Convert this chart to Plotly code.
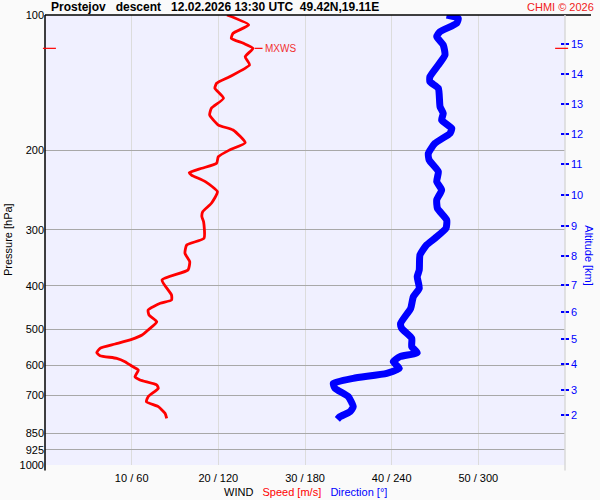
import numpy as np
import plotly.graph_objects as go

# ---------------- data ----------------
speed_p = [100.0, 105.2, 109.8, 112.7, 115.6, 118.6, 123.8, 129.1, 137.1, 141.8,
           145.5, 153.1, 161.2, 166.8, 175.6, 180.1, 192.2, 199.5, 206.5, 213.6,
           219.1, 224.1, 226.8, 234.6, 247.0, 262.0, 273.5, 280.6, 287.9, 313.4,
           324.4, 338.5, 353.3, 368.7, 388.0, 419.0, 429.9, 437.2, 452.4, 464.2,
           480.3, 501.2, 514.2, 525.7, 538.4, 550.4, 562.9, 571.6, 579.3, 589.4,
           602.6, 615.1, 636.5, 647.3, 664.1, 675.5, 705.1, 723.4, 742.0, 767.6,
           787.5]
speed_ms = [21.0, 23.5, 21.7, 21.5, 22.9, 24.0, 23.1, 23.6, 21.3, 19.8,
            19.6, 20.6, 19.2, 19.0, 20.0, 21.7, 23.1, 21.3, 20.0, 19.8,
            18.1, 16.65, 16.9, 18.5, 19.9, 19.2, 18.2, 18.1, 18.3, 18.35,
            16.35, 16.15, 16.7, 16.5, 13.5, 14.6, 14.6, 13.3, 11.9, 12.0,
            12.9, 11.9, 11.2, 10.0, 8.1, 6.35, 5.97, 6.35, 8.27, 9.23,
            10.0, 10.77, 10.38, 10.96, 12.9, 13.07, 11.9, 11.7, 13.07, 13.85,
            14.04]

dir_p = [100.0, 101.7, 104.3, 108.9, 111.7, 116.6, 122.7, 129.1, 137.1, 140.7,
         145.5, 159.9, 165.4, 171.2, 178.6, 183.2, 192.8, 203.0, 210.1, 222.9,
         234.6, 244.9, 257.6, 269.0, 285.4, 297.8, 313.4, 324.4, 341.4, 368.7,
         381.6, 404.8, 422.7, 448.5, 484.3, 496.8, 522.9, 546.0, 562.9, 574.5,
         589.4, 609.8, 625.6, 641.8, 658.4, 675.5, 705.1, 742.0, 761.2, 781.1,
         791.4]
dir_deg = [278.1, 286.1, 285.0, 273.5, 271.2, 275.7, 276.9, 272.3, 266.5, 266.5,
           272.3, 273.5, 275.7, 274.6, 281.6, 280.4, 270.0, 265.4, 266.0, 272.3,
           271.2, 274.6, 271.2, 271.7, 278.1, 277.6, 270.0, 264.2, 259.6, 259.1,
           257.7, 259.1, 255.0, 253.2, 246.2, 246.9, 253.9, 253.9, 257.7, 245.8,
           241.1, 245.3, 236.6, 213.4, 199.6, 200.8, 210.0, 213.4, 211.2, 204.2,
           202.4]

p_ticks = [100, 200, 300, 400, 500, 600, 700, 850, 925, 1000]
x_ticks = [10, 20, 30, 40, 50]
x_ticktext = ["10 / 60", "20 / 120", "30 / 180", "40 / 240", "50 / 300"]

alt_km = [2, 3, 4, 5, 6, 7, 8, 9, 10, 11, 12, 13, 14, 15]
alt_p = [774, 681, 597, 525, 457, 398, 343, 294, 251, 214, 184, 158, 135, 116]

title_text = "Prostejov\u00a0\u00a0\u00a0descent\u00a0\u00a0\u00a012.02.2026 13:30 UTC\u00a0\u00a049.42N,19.11E"

# max wind
imax = int(np.argmax(speed_ms))
mxws_speed = speed_ms[imax]
mxws_p = speed_p[imax]

FONT = "Liberation Sans, Arial, sans-serif"
RED = "#FF0000"
BLUE = "#0000FF"

fig = go.Figure()

fig.add_trace(go.Scatter(x=dir_deg, y=dir_p, xaxis="x2", yaxis="y", mode="lines",
                         line=dict(color=BLUE, width=7, shape="spline", smoothing=0.5),
                         hoverinfo="skip", showlegend=False))
fig.add_trace(go.Scatter(x=speed_ms, y=speed_p, xaxis="x", yaxis="y", mode="lines",
                         line=dict(color=RED, width=2.8, shape="spline", smoothing=0.5),
                         hoverinfo="skip", showlegend=False))
fig.add_trace(go.Scatter(x=[30] * len(alt_p), y=alt_p, xaxis="x", yaxis="y2", mode="markers",
                         marker=dict(opacity=0), hoverinfo="skip", showlegend=False))

def ypaper(p):
    return 3 - np.log10(p)

shapes = [
    # title rule
    dict(type="line", xref="paper", yref="paper", x0=0, x1=1.05, y0=1, y1=1,
         line=dict(color="black", width=1.5)),
    # left axis line
    dict(type="line", xref="paper", yref="paper", x0=0, x1=0, y0=-0.012, y1=1,
         line=dict(color="black", width=1.5)),
    # right border
    dict(type="line", xref="paper", yref="paper", x0=1, x1=1, y0=-0.012, y1=1,
         line=dict(color="#D8D8D8", width=1.5)),
    # MXWS markers
    dict(type="line", xref="paper", yref="paper", x0=-0.004, x1=0.021,
         y0=ypaper(mxws_p), y1=ypaper(mxws_p), line=dict(color=RED, width=1.2)),
    dict(type="line", xref="paper", yref="paper", x0=0.981, x1=1.006,
         y0=ypaper(mxws_p), y1=ypaper(mxws_p), line=dict(color=RED, width=1.2)),
    dict(type="line", xref="x", yref="paper", x0=mxws_speed + 0.2, x1=mxws_speed + 1.1,
         y0=ypaper(mxws_p), y1=ypaper(mxws_p), line=dict(color=RED, width=1.2)),
]

annotations = [
    dict(text="<b>" + title_text + "</b>", xref="paper", yref="paper", x=0.008, y=1.017,
         xanchor="left", yanchor="middle", showarrow=False,
         font=dict(family=FONT, size=12, color="black")),
    dict(text="CHMI © 2026", xref="paper", yref="paper", x=1.06, y=1.017,
         xanchor="right", yanchor="middle", showarrow=False,
         font=dict(family=FONT, size=11, color="#F02020")),
    dict(text="MXWS", xref="x", yref="paper", x=mxws_speed + 1.15, y=ypaper(mxws_p),
         xanchor="left", yanchor="middle", showarrow=False,
         font=dict(family=FONT, size=10, color="#F03030")),
    dict(text="WIND\u00a0\u00a0\u00a0<span style='color:#FF0000'>Speed [m/s]</span>\u00a0\u00a0\u00a0"
              "<span style='color:#0000FF'>Direction [°]</span>",
         xref="paper", yref="paper", x=0.5, y=-0.06, xanchor="center", yanchor="middle",
         showarrow=False, font=dict(family=FONT, size=11, color="black")),
    dict(text="Pressure [hPa]", xref="paper", yref="paper", x=-0.071, y=0.5,
         xanchor="center", yanchor="middle", textangle=-90, showarrow=False,
         font=dict(family=FONT, size=11, color="black")),
    dict(text="Altitude [km]", xref="paper", yref="paper", x=1.047, y=0.465,
         xanchor="center", yanchor="middle", textangle=90, showarrow=False,
         font=dict(family=FONT, size=11, color=BLUE)),
]

fig.update_layout(
    width=600, height=500,
    margin=dict(l=45, r=35, t=15, b=35, autoexpand=False),
    paper_bgcolor="#FAFAFA",
    plot_bgcolor="#F0F0FF",
    font=dict(family=FONT, size=11, color="black"),
    showlegend=False,
    xaxis=dict(range=[0, 60], tickvals=x_ticks, ticktext=x_ticktext, showgrid=True,
               gridcolor="#DCDCDC", gridwidth=1, zeroline=False, showline=False,
               ticks="", ticklabelstandoff=5, tickfont=dict(size=11, color="black"),
               fixedrange=True, automargin=False),
    xaxis2=dict(range=[0, 360], overlaying="x", visible=False, fixedrange=True),
    yaxis=dict(type="log", range=[3, 2], tickvals=p_ticks, ticktext=[str(v) for v in p_ticks],
               showgrid=True, gridcolor="#A8A8A8", gridwidth=1.2, zeroline=False,
               showline=False, ticks="", tickfont=dict(size=11, color="black"),
               fixedrange=True, automargin=False),
    yaxis2=dict(type="log", range=[3, 2], overlaying="y", anchor="free", position=0.99,
                side="right", tickvals=alt_p, ticktext=[str(v) for v in alt_km],
                showgrid=False, zeroline=False, showline=False, ticks="outside",
                ticklen=8, tickwidth=1.5, tickcolor=BLUE,
                tickfont=dict(size=11, color=BLUE), fixedrange=True, automargin=False),
    shapes=shapes,
    annotations=annotations,
)

fig.write_html("out.html", config={"displayModeBar": False},
               post_script="document.body.style.margin='0px';document.body.style.overflow='hidden';")
